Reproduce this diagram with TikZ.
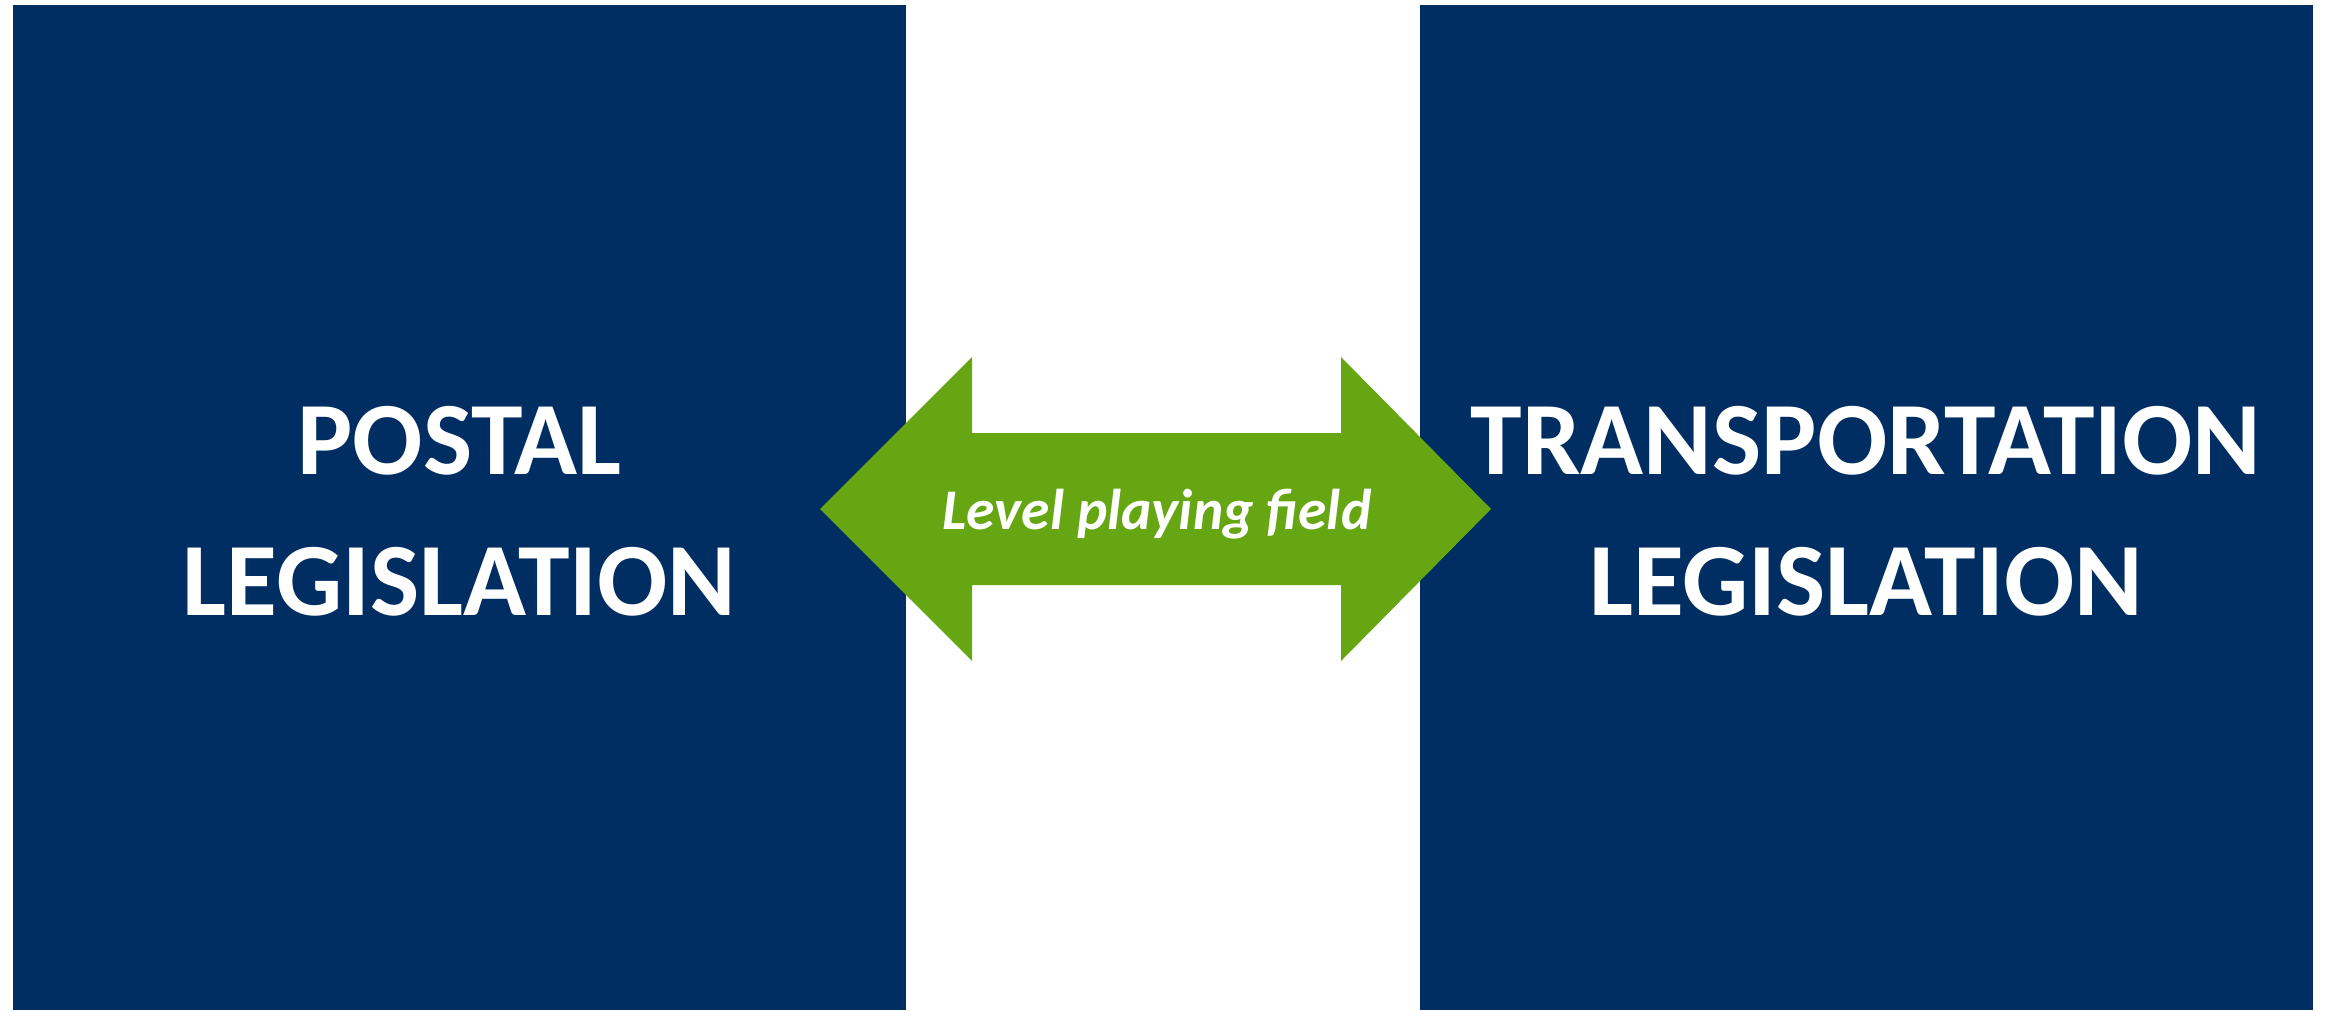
\documentclass[tikz,border=0pt]{standalone}
\usepackage{fontspec}
\setmainfont{Carlito}
\definecolor{navy}{RGB}{0,46,99}
\definecolor{lgreen}{RGB}{102,166,19}
\begin{document}
\begin{tikzpicture}[x=1pt,y=-1pt,
  bigbox/.style={fill=navy, draw=none, inner sep=0pt, anchor=north west, minimum width=893pt, minimum height=1005pt},
  boxtext/.style={text=white, align=center, font=\fontsize{104}{141}\selectfont\bfseries, inner sep=0pt},
  arrowtext/.style={text=white, font=\fontsize{57.5}{60}\selectfont\bfseries\itshape, inner sep=0pt, anchor=base}]
\useasboundingbox (0,0) rectangle (2325,1010);
\node[bigbox] (postal) at (13,5) {};
\node[bigbox] (transport) at (1420,5) {};
\node[boxtext] (ptext) at (459.5,511) {POSTAL\\LEGISLATION};
\node[boxtext] (ttext) at (1866,511) {TRANSPORTATION\\LEGISLATION};
\fill[lgreen] (820,509) -- (972,357) -- (972,433) -- (1341,433) -- (1341,357) -- (1491,509)
  -- (1341,661) -- (1341,585) -- (972,585) -- (972,661) -- cycle;
\node[arrowtext] (lpf) at (1157,529) {Level playing field};
\end{tikzpicture}
\end{document}
